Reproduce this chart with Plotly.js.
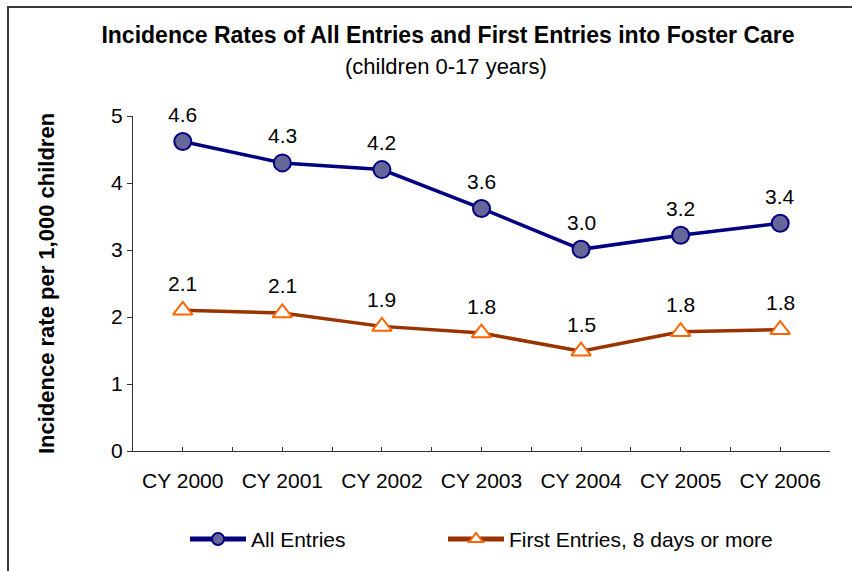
<!DOCTYPE html>
<html>
<head>
<meta charset="utf-8">
<script src="https://cdn.plot.ly/plotly-3.0.1.min.js"></script>
<style>
  html, body { margin: 0; padding: 0; background: #ffffff; }
  #wrap { position: relative; width: 852px; height: 571px; overflow: hidden; }
  #chart { width: 852px; height: 571px; }
  #frame { position: absolute; left: 7px; top: 6px; width: 900px; height: 600px;
           border-left: 2px solid #3a3a3a; border-top: 2px solid #3a3a3a;
           pointer-events: none; box-sizing: border-box; }
</style>
</head>
<body>
<div id="wrap">
  <div id="chart"></div>
  <div id="frame"></div>
</div>
<script>
// ---- data ----
const categories = ['CY 2000', 'CY 2001', 'CY 2002', 'CY 2003', 'CY 2004', 'CY 2005', 'CY 2006'];
const allEntries = [4.62, 4.30, 4.20, 3.62, 3.01, 3.22, 3.40];
const firstEntries = [2.10, 2.06, 1.86, 1.76, 1.49, 1.78, 1.81];
const seriesNames = ['All Entries', 'First Entries, 8 days or more'];
const yTickValues = [0, 1, 2, 3, 4, 5];
const chartTitle = 'Incidence Rates of All Entries and First Entries into Foster Care';
const chartSubtitle = '(children 0-17 years)';
const yAxisTitle = 'Incidence rate per 1,000 children';

const FONT = 'Liberation Sans, Arial, Helvetica, sans-serif';
const xIdx = categories.map((c, i) => i);

const traces = [
  {
    type: 'scatter', mode: 'lines+markers', name: seriesNames[0],
    x: xIdx, y: allEntries, legend: 'legend',
    line: { color: '#000080', width: 3.5 },
    marker: { symbol: 'circle', size: 17, color: '#666699', line: { color: '#000080', width: 2 } },
    hoverinfo: 'skip'
  },
  {
    type: 'scatter', mode: 'lines+markers', name: seriesNames[1],
    x: xIdx, y: firstEntries, legend: 'legend2',
    line: { color: '#993300', width: 3.5 },
    marker: { symbol: 'triangle-up', size: 17, color: '#ffffff', line: { color: '#ff6600', width: 2 } },
    hoverinfo: 'skip'
  }
];

const labelFont = { family: FONT, size: 21, color: '#000000' };
const annotations = [];
[allEntries, firstEntries].forEach(series => {
  series.forEach((v, i) => {
    annotations.push({
      x: xIdx[i], y: v, xref: 'x', yref: 'y',
      text: v.toFixed(1), showarrow: false,
      yshift: 27, font: labelFont
    });
  });
});
annotations.push({
  x: 0.4497, y: 1.148, xref: 'paper', yref: 'paper',
  xanchor: 'center', yanchor: 'middle',
  text: chartSubtitle, showarrow: false,
  font: { family: FONT, size: 22, color: '#000000' }
});

const legendCommon = {
  orientation: 'h',
  xanchor: 'left',
  y: -0.26, yanchor: 'middle',
  font: { family: FONT, size: 21, color: '#000000' },
  itemwidth: 56,
  itemsizing: 'constant',
  bgcolor: 'rgba(0,0,0,0)'
};

const layout = {
  width: 852, height: 571,
  paper_bgcolor: '#ffffff', plot_bgcolor: '#ffffff',
  margin: { l: 133, r: 22, t: 116, b: 119, pad: 0 },
  showlegend: true,
  title: {
    text: '<b>' + chartTitle + '</b>',
    x: 448 / 852, xanchor: 'center',
    y: 1 - 35 / 571, yanchor: 'middle', yref: 'container',
    font: { family: FONT, size: 23, color: '#000000' }
  },
  xaxis: {
    type: 'linear',
    range: [-0.5, categories.length - 0.5],
    tickvals: xIdx, ticktext: categories,
    ticks: 'inside', ticklen: 4, tickwidth: 1, tickcolor: '#333333',
    minor: { dtick: 0.5, tick0: -0.5, ticks: 'inside', ticklen: 4, tickwidth: 1, tickcolor: '#333333', showgrid: false },
    showline: true, linecolor: '#333333', linewidth: 1,
    showgrid: false, zeroline: false, fixedrange: true,
    ticklabelstandoff: 11,
    tickfont: { family: FONT, size: 21, color: '#000000' }
  },
  yaxis: {
    range: [0, 5],
    tickvals: yTickValues,
    ticks: 'outside', ticklen: 5, tickwidth: 1, tickcolor: '#333333',
    showline: true, linecolor: '#333333', linewidth: 1,
    showgrid: false, zeroline: false, fixedrange: true,
    tickfont: { family: FONT, size: 21, color: '#000000' },
    title: {
      text: '<b>' + yAxisTitle + '</b>',
      font: { family: FONT, size: 22, color: '#000000' },
      standoff: 50
    }
  },
  legend: Object.assign({}, legendCommon, { x: (185 - 133) / 697 }),
  legend2: Object.assign({}, legendCommon, { x: (443 - 133) / 697 }),
  annotations: annotations
};

Plotly.newPlot('chart', traces, layout, { displayModeBar: false, staticPlot: true });
</script>
</body>
</html>
